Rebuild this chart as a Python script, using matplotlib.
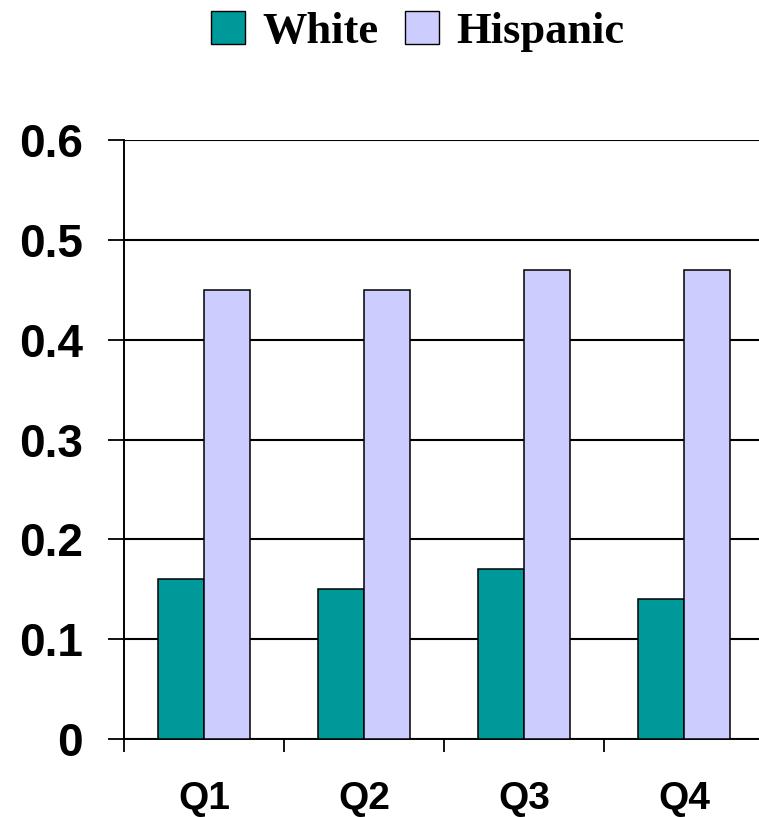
import matplotlib
import numpy as np

matplotlib.use("Agg")
import matplotlib.pyplot as plt  # noqa: E402
from matplotlib.patches import Patch  # noqa: E402

QUARTERS = ["Q1", "Q2", "Q3", "Q4"]
WHITE = [0.16, 0.15, 0.17, 0.14]
HISPANIC = [0.45, 0.45, 0.47, 0.47]
Y_TICKS = [0, 0.1, 0.2, 0.3, 0.4, 0.5, 0.6]
Y_TICK_LABELS = ["0", "0.1", "0.2", "0.3", "0.4", "0.5", "0.6"]

TEAL = "#009999"
LAVENDER = "#CCCCFF"
BAR_WIDTH = 0.2875

W, H = 759, 817
fig = plt.figure(figsize=(W / 100, H / 100), dpi=100)
# axes run a little past the right edge, so the right spine is cut off
ax = fig.add_axes([124 / W, 1 - 739 / H, 640 / W, 599 / H])

x = np.arange(len(QUARTERS)) + 0.5
ax.bar(x - BAR_WIDTH / 2, WHITE, BAR_WIDTH, color=TEAL, edgecolor="black",
       linewidth=1.1, zorder=3, label="White")
ax.bar(x + BAR_WIDTH / 2, HISPANIC, BAR_WIDTH, color=LAVENDER, edgecolor="black",
       linewidth=1.1, zorder=3, label="Hispanic")

ax.set_xlim(0, len(QUARTERS))
ax.set_ylim(0, 0.6)

ax.set_yticks(Y_TICKS)
ax.set_yticklabels(Y_TICK_LABELS, fontfamily="Liberation Sans", fontweight="bold", fontsize=33)
ax.tick_params(axis="y", direction="out", length=11.5, width=1.3, pad=18)

# boundary ticks without labels, quarter names on minor ticks without marks
ax.set_xticks(np.arange(len(QUARTERS) + 1))
ax.set_xticklabels([])
ax.tick_params(axis="x", which="major", direction="out", length=9.5, width=1.3)
ax.set_xticks(x, minor=True)
ax.set_xticklabels(QUARTERS, minor=True, fontfamily="Liberation Sans",
                   fontweight="bold", fontsize=28)
ax.tick_params(axis="x", which="minor", length=0, pad=30)

ax.yaxis.grid(True, color="black", linewidth=1.5, zorder=0)
ax.set_axisbelow(True)
for side in ("top", "right"):
    ax.spines[side].set_visible(False)
for side in ("left", "bottom"):
    ax.spines[side].set_linewidth(1.4)

handles = [Patch(facecolor=TEAL, edgecolor="black", linewidth=1.0),
           Patch(facecolor=LAVENDER, edgecolor="black", linewidth=1.0)]
fig.legend(handles, ["White", "Hispanic"], loc="upper center",
           bbox_to_anchor=(418 / W, 1 + 20 / H), ncol=2, frameon=False,
           prop={"family": "Liberation Serif", "weight": "bold", "size": 32},
           handlelength=0.75, handleheight=0.75, handletextpad=0.4,
           columnspacing=0.6, borderpad=0.2)

fig.savefig("out.png", dpi=100)
